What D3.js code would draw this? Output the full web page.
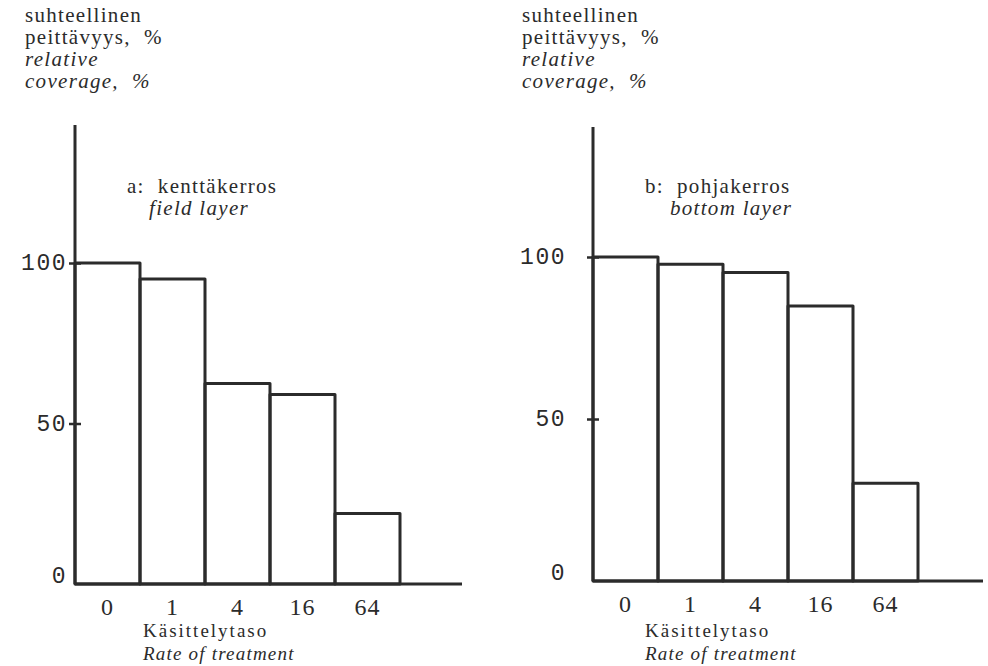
<!DOCTYPE html>
<html><head><meta charset="utf-8">
<script src="https://cdn.jsdelivr.net/npm/d3@7"></script>
<style>
html,body{margin:0;padding:0;background:#fff;}
svg{display:block;}
text{white-space:pre;}
</style></head>
<body>
<svg id="chart" width="988" height="666"></svg>
<script>
// ---- data ----
const categories = ["0", "1", "4", "16", "64"];
const fieldLayer = [100, 95, 62.5, 59, 22];
const bottomLayer = [100, 97.8, 95.2, 84.9, 30.2];
const yTicks = [0, 50, 100];
const yLabelLines = ["suhteellinen", "peittävyys,  %", "relative", "coverage,  %"];
const xTitle = ["Käsittelytaso", "Rate of treatment"];
const panelTitles = [["a:  kenttäkerros", "field layer"], ["b:  pohjakerros", "bottom layer"]];

const ink = "#2b2b2b";
const serif = "'Liberation Serif', 'Times New Roman', serif";
const mono = "'Liberation Mono', 'Courier New', monospace";
const svg = d3.select("#chart");

const panels = [
  {values: fieldLayer, title: panelTitles[0], axisX: 75, y0: 584, y100: 263, top: 125,
   barRange: [75, 400], axisEnd: 462, textX: 25, titleX: 127, subX: 149, tickY: 615, tickLabRight: 67, xTitleX: 143},
  {values: bottomLayer, title: panelTitles[1], axisX: 593, y0: 581, y100: 257, top: 127,
   barRange: [593, 918], axisEnd: 983, textX: 522, titleX: 645, subX: 670, tickY: 612, tickLabRight: 566, xTitleX: 645}
];

function label(g, x, yy, t, italic, size, ls) {
  return g.append("text").attr("x", x).attr("y", yy)
    .attr("font-family", serif).attr("font-size", size || 21)
    .attr("letter-spacing", ls == null ? 1.3 : ls)
    .attr("font-style", italic ? "italic" : "normal")
    .attr("fill", ink).text(t);
}

panels.forEach(p => {
  const g = svg.append("g");
  const y = d3.scaleLinear().domain([0, 100]).range([p.y0, p.y100]);
  const x = d3.scaleBand().domain(categories).range(p.barRange).padding(0);

  // y-axis label lines
  yLabelLines.forEach((t, i) => label(g, p.textX, 22 + i * 22, t, i >= 2));

  // panel title
  label(g, p.titleX, 193, p.title[0], false);
  label(g, p.subX, 215, p.title[1], true);

  // bars
  g.selectAll("rect.bar").data(p.values).join("rect").attr("class", "bar")
    .attr("x", (d, i) => x(categories[i]))
    .attr("width", x.bandwidth())
    .attr("y", d => y(d))
    .attr("height", d => y(0) - y(d))
    .attr("fill", "none").attr("stroke", ink).attr("stroke-width", 3)
    .attr("stroke-linejoin", "round");

  // y axis line
  g.append("line").attr("x1", p.axisX).attr("x2", p.axisX).attr("y1", p.top).attr("y2", y(0))
    .attr("stroke", ink).attr("stroke-width", 3);
  // x axis line
  g.append("line").attr("x1", p.axisX).attr("x2", p.axisEnd).attr("y1", y(0)).attr("y2", y(0))
    .attr("stroke", ink).attr("stroke-width", 3);

  // y ticks via d3 axis
  const ya = g.append("g").attr("transform", `translate(${p.axisX},0)`)
    .call(d3.axisLeft(y).tickValues(yTicks.filter(v => v > 0)).tickSize(6).tickFormat(""));
  ya.select(".domain").remove();
  ya.selectAll(".tick line").attr("x1", -6).attr("x2", 6).attr("stroke", ink).attr("stroke-width", 2.5);

  // y tick labels
  g.selectAll("text.ylab").data(yTicks).join("text").attr("class", "ylab")
    .attr("x", p.tickLabRight).attr("y", d => y(d) + (d === 0 ? -1 : 7))
    .attr("text-anchor", "end").attr("font-family", mono).attr("font-size", 23)
    .attr("letter-spacing", 1.5).attr("fill", ink).text(d => d);

  // x tick labels
  const xa = g.append("g").attr("transform", `translate(0,${y(0)})`)
    .call(d3.axisBottom(x).tickSize(0));
  xa.select(".domain").remove();
  xa.selectAll(".tick text").attr("y", p.tickY - y(0)).attr("dy", 0)
    .attr("font-family", serif).attr("font-size", 24).attr("letter-spacing", 1).attr("fill", ink);

  // x title
  label(g, p.xTitleX, 637, xTitle[0], false, 19, 2);
  label(g, p.xTitleX, 660, xTitle[1], true, 19, 1.2);
});
</script>
</body></html>
